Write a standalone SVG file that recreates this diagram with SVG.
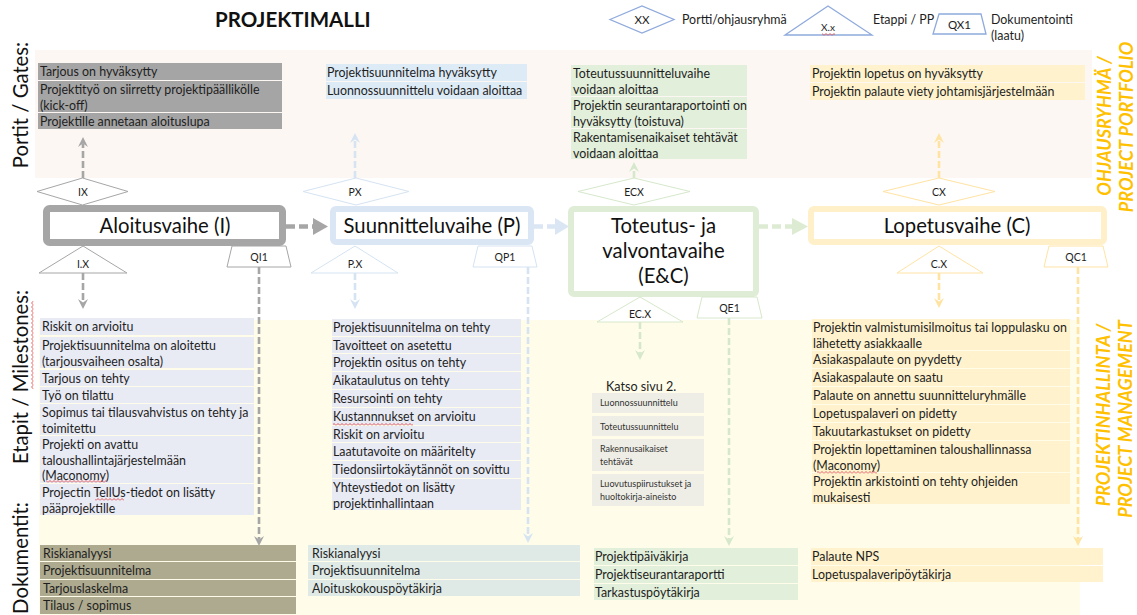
<svg xmlns="http://www.w3.org/2000/svg" width="1137" height="615" viewBox="0 0 1137 615">
<defs>
<style>
text{font-family:Lato,"Liberation Sans",sans-serif;fill:#1e1e1e}
.li{font-size:12.4px}
.sm{font-size:10.5px;text-anchor:middle}
.tiny{font-size:9px;fill:#333}
.stage{font-size:20.3px;text-anchor:middle;fill:#111}
.side{font-size:20.3px;text-anchor:middle;fill:#111}
.org{font-size:18px;font-weight:700;font-style:italic;fill:#FFC000;text-anchor:middle}
.title{font-size:20.5px;font-weight:700;fill:#111}
.shape{fill:#fff;stroke-width:1}
.leg{fill:#fff;stroke:#8FAADC;stroke-width:1.3}
.dash{fill:none;stroke-width:2.6;stroke-dasharray:7 3}
.flow{fill:none;stroke-width:4.5;stroke-dasharray:9 4}
.sq{fill:url(#squig)}
.cI{stroke:#A6A6A6}.cP{stroke:#D5E3F2}.cE{stroke:#D6E8CB}.cC{stroke:#FFE3A3}
.fI{fill:#A5A5A5}.fP{fill:#DDEBF7}.fE{fill:#E2EFDA}.fC{fill:#FFF2CC}
.mI{fill:#E8EAF4}.dI{fill:#ADAA8F}.dP{fill:#DFEAE7}.kb{fill:#EFEEE6}
</style>
<pattern id="squig" width="4" height="3" patternUnits="userSpaceOnUse">
<path d="M0,2.5 L2,0.5 L4,2.5" fill="none" stroke="#E04848" stroke-width="0.9"/>
</pattern>
<marker id="aI" viewBox="0 0 10 10" refX="3.5" refY="5" markerWidth="10" markerHeight="10" markerUnits="userSpaceOnUse" orient="auto"><path d="M0,0 L10,5 L0,10 L3.5,5 z" fill="#A6A6A6"/></marker>
<marker id="aP" viewBox="0 0 10 10" refX="3.5" refY="5" markerWidth="10" markerHeight="10" markerUnits="userSpaceOnUse" orient="auto"><path d="M0,0 L10,5 L0,10 L3.5,5 z" fill="#D5E3F2"/></marker>
<marker id="aE" viewBox="0 0 10 10" refX="3.5" refY="5" markerWidth="10" markerHeight="10" markerUnits="userSpaceOnUse" orient="auto"><path d="M0,0 L10,5 L0,10 L3.5,5 z" fill="#D6E8CB"/></marker>
<marker id="aC" viewBox="0 0 10 10" refX="3.5" refY="5" markerWidth="10" markerHeight="10" markerUnits="userSpaceOnUse" orient="auto"><path d="M0,0 L10,5 L0,10 L3.5,5 z" fill="#FFE3A3"/></marker>
</defs>

<rect width="1137" height="615" fill="#fff"/>

<!-- swim lanes -->
<rect x="35" y="50" width="1057" height="128" fill="#FCF7F3"/>
<rect x="39" y="320" width="1041" height="295" fill="#FFFDEA"/>

<!-- title and legend -->
<g id="title"><text class="title" x="215" y="27">PROJEKTIMALLI</text></g>
<g id="legend">
<polygon class="leg" points="610,19.5 642,6 674,19.5 642,33"/>
<text class="sm" x="642" y="24" style="font-size:11.5px">XX</text>
<text class="li" x="682" y="24">Portti/ohjausryhmä</text>
<polygon class="leg" points="785,35 828,6 872,35"/>
<text class="sm" x="828" y="31" style="font-size:10px">X.x</text>
<rect class="sq" x="822" y="33" width="13" height="3"/>
<text class="li" x="873" y="24">Etappi / PP</text>
<polygon class="leg" points="939,14 981,14 986,34 933,34"/>
<text class="sm" x="959.5" y="28.5" style="font-size:11.5px">QX1</text>
<text class="li" x="991" y="24">Dokumentointi</text>
<text class="li" x="991" y="40">(laatu)</text>
</g>

<!-- lane labels -->
<g id="lane-labels">
<text class="side" transform="translate(28,105) rotate(-90)">Portit / Gates:</text>
<g transform="translate(28,377) rotate(-90)">
<text class="side">Etapit / Milestones:</text>
<rect class="sq" x="-12" y="3" width="88" height="3"/>
</g>
<text class="side" transform="translate(28,558) rotate(-90)">Dokumentit:</text>
<text class="org" transform="translate(1111,126) rotate(-90)">OHJAUSRYHMÄ /</text>
<text class="org" transform="translate(1133,127) rotate(-90)">PROJECT PORTFOLIO</text>
<text class="org" transform="translate(1110,415) rotate(-90)">PROJEKTINHALLINTA /</text>
<text class="org" transform="translate(1132,419) rotate(-90)">PROJECT MANAGEMENT</text>
</g>

<!-- connectors -->
<g id="connectors">
<line class="flow" x1="286" y1="226.5" x2="314" y2="226.5" stroke="#A6A6A6"/>
<polygon points="313,218 328,226.5 313,235" fill="#A6A6A6"/>
<line class="flow" x1="534" y1="226.5" x2="556" y2="226.5" stroke="#DAE6F3"/>
<polygon points="555,218 569,226.5 555,235" fill="#DAE6F3"/>
<line class="flow" x1="759" y1="226.5" x2="793" y2="226.5" stroke="#DDEBD3"/>
<polygon points="792,218 808,226.5 792,235" fill="#DDEBD3"/>

<line class="dash cI" x1="83" y1="178" x2="83" y2="143.5" marker-end="url(#aI)"/>
<line class="dash cP" x1="355" y1="178" x2="355" y2="139.5" marker-end="url(#aP)"/>
<line class="dash cE" x1="634" y1="178" x2="634" y2="168.5" marker-end="url(#aE)"/>
<line class="dash cC" x1="939" y1="178" x2="939" y2="139.5" marker-end="url(#aC)"/>

<line class="dash cI" x1="83" y1="273" x2="83" y2="302.5" marker-end="url(#aI)"/>
<line class="dash cP" x1="355" y1="273" x2="355" y2="302.5" marker-end="url(#aP)"/>
<line class="dash cE" x1="640" y1="322" x2="640" y2="353.5" marker-end="url(#aE)"/>
<line class="dash cC" x1="939" y1="273" x2="939" y2="301.5" marker-end="url(#aC)"/>

<line class="dash cI" x1="259" y1="267" x2="259" y2="539.5" marker-end="url(#aI)"/>
<line class="dash cP" x1="528" y1="267" x2="528" y2="536.5" marker-end="url(#aP)"/>
<line class="dash cE" x1="729" y1="318" x2="729" y2="539.5" marker-end="url(#aE)"/>
<line class="dash cC" x1="1078" y1="267" x2="1078" y2="539.5" marker-end="url(#aC)"/>
</g>

<!-- phase I: Aloitusvaihe -->
<g id="gate-I">
<rect class="fI" x="38" y="63" width="244" height="17"/>
<rect class="fI" x="38" y="81" width="244" height="31"/>
<rect class="fI" x="38" y="113" width="244" height="16"/>
<text class="li" x="40" y="76">Tarjous on hyväksytty</text>
<text class="li" x="40" y="94">Projektityö on siirretty projektipäällikölle</text>
<text class="li" x="40" y="109.5">(kick-off)</text>
<text class="li" x="40" y="126">Projektille annetaan aloituslupa</text>
</g>
<g id="port-IX">
<polygon class="shape cI" points="37,191.5 82.5,178 128,191.5 82.5,205"/>
<text class="sm" x="83" y="195.5">IX</text>
</g>
<g id="stage-I">
<rect x="46.5" y="208.5" width="236" height="34" rx="3" fill="#fff" stroke="#A6A6A6" stroke-width="7"/>
<text class="stage" x="165" y="233">Aloitusvaihe (I)</text>
</g>
<g id="milestone-IX">
<polygon class="shape cI" points="39,273 83,246 127,273"/>
<text class="sm" x="83" y="268">I.X</text>
</g>
<g id="doc-QI1">
<polygon class="shape cI" points="232,246 286,246 291,267 227,267"/>
<text class="sm" x="259" y="261">QI1</text>
</g>
<g id="milestones-I">
<rect class="mI" x="40" y="318" width="214" height="17"/>
<rect class="mI" x="40" y="337" width="214" height="31"/>
<rect class="mI" x="40" y="370" width="214" height="16"/>
<rect class="mI" x="40" y="387" width="214" height="16"/>
<rect class="mI" x="40" y="404" width="214" height="31"/>
<rect class="mI" x="40" y="436" width="214" height="47"/>
<rect class="mI" x="40" y="484" width="214" height="31"/>
<text class="li" x="42" y="331">Riskit on arvioitu</text>
<text class="li" x="42" y="350">Projektisuunnitelma on aloitettu</text>
<text class="li" x="42" y="365.5">(tarjousvaiheen osalta)</text>
<text class="li" x="42" y="383">Tarjous on tehty</text>
<text class="li" x="42" y="400">Työ on tilattu</text>
<text class="li" x="42" y="417">Sopimus tai tilausvahvistus on tehty ja</text>
<text class="li" x="42" y="432.5">toimitettu</text>
<text class="li" x="42" y="449">Projekti on avattu</text>
<text class="li" x="42" y="464.5">taloushallintajärjestelmään</text>
<text class="li" x="42" y="480">(Maconomy)</text>
<rect class="sq" x="46" y="480" width="60" height="3"/>
<text class="li" x="42" y="497">Projectin TellUs-tiedot on lisätty</text>
<rect class="sq" x="95" y="498" width="29" height="3"/>
<text class="li" x="42" y="512.5">pääprojektille</text>
</g>
<g id="docs-I">
<rect class="dI" x="40" y="545" width="256" height="16"/>
<rect class="dI" x="40" y="562" width="256" height="17"/>
<rect class="dI" x="40" y="580" width="256" height="16"/>
<rect class="dI" x="40" y="597" width="256" height="17"/>
<text class="li" x="43" y="558">Riskianalyysi</text>
<text class="li" x="43" y="575">Projektisuunnitelma</text>
<text class="li" x="43" y="593">Tarjouslaskelma</text>
<text class="li" x="43" y="610">Tilaus / sopimus</text>
</g>

<!-- phase P: Suunnitteluvaihe -->
<g id="gate-P">
<rect class="fP" x="326" y="64" width="201" height="17"/>
<rect class="fP" x="326" y="82" width="201" height="17"/>
<text class="li" x="327" y="77">Projektisuunnitelma hyväksytty</text>
<text class="li" x="327" y="95">Luonnossuunnittelu voidaan aloittaa</text>
</g>
<g id="port-PX">
<polygon class="shape cP" points="303,191.5 356,178 409,191.5 356,205"/>
<text class="sm" x="355" y="195.5">PX</text>
</g>
<g id="stage-P">
<rect x="333" y="209" width="198" height="33" rx="3" fill="#fff" stroke="#DAE6F3" stroke-width="6"/>
<text class="stage" x="432" y="233">Suunnitteluvaihe (P)</text>
</g>
<g id="milestone-PX">
<polygon class="shape cP" points="311,273 355,246 398,273"/>
<text class="sm" x="355" y="268">P.X</text>
</g>
<g id="doc-QP1">
<polygon class="shape cP" points="478,246 532,246 537,267 473,267"/>
<text class="sm" x="505" y="261">QP1</text>
</g>
<g id="milestones-P">
<rect class="mI" x="332" y="319" width="189" height="17"/>
<rect class="mI" x="332" y="337" width="189" height="16"/>
<rect class="mI" x="332" y="354" width="189" height="17"/>
<rect class="mI" x="332" y="372" width="189" height="17"/>
<rect class="mI" x="332" y="390" width="189" height="17"/>
<rect class="mI" x="332" y="408" width="189" height="17"/>
<rect class="mI" x="332" y="426" width="189" height="16"/>
<rect class="mI" x="332" y="443" width="189" height="17"/>
<rect class="mI" x="332" y="461" width="189" height="17"/>
<rect class="mI" x="332" y="479" width="189" height="31"/>
<text class="li" x="333" y="332">Projektisuunnitelma on tehty</text>
<text class="li" x="333" y="350">Tavoitteet on asetettu</text>
<text class="li" x="333" y="367">Projektin ositus on tehty</text>
<text class="li" x="333" y="385">Aikataulutus on tehty</text>
<text class="li" x="333" y="403">Resursointi on tehty</text>
<text class="li" x="333" y="421">Kustannnukset on arvioitu</text>
<rect class="sq" x="333" y="423" width="80" height="3"/>
<text class="li" x="333" y="439">Riskit on arvioitu</text>
<text class="li" x="333" y="456">Laatutavoite on määritelty</text>
<text class="li" x="333" y="474">Tiedonsiirtokäytännöt on sovittu</text>
<text class="li" x="333" y="492">Yhteystiedot on lisätty</text>
<text class="li" x="333" y="507.5">projektinhallintaan</text>
</g>
<g id="docs-P">
<rect class="dP" x="308" y="545" width="272" height="16"/>
<rect class="dP" x="308" y="562" width="272" height="17"/>
<rect class="dP" x="308" y="580" width="272" height="16"/>
<text class="li" x="312" y="558">Riskianalyysi</text>
<text class="li" x="312" y="575">Projektisuunnitelma</text>
<text class="li" x="312" y="593">Aloituskokouspöytäkirja</text>
</g>

<!-- phase E&C: Toteutus- ja valvontavaihe -->
<g id="gate-E">
<rect class="fE" x="571" y="65" width="176" height="31"/>
<rect class="fE" x="571" y="97" width="176" height="31"/>
<rect class="fE" x="571" y="129" width="176" height="30"/>
<text class="li" x="573" y="78">Toteutussuunnitteluvaihe</text>
<text class="li" x="573" y="93.5">voidaan aloittaa</text>
<text class="li" x="573" y="110">Projektin seurantaraportointi on</text>
<text class="li" x="573" y="125.5">hyväksytty (toistuva)</text>
<text class="li" x="573" y="142">Rakentamisenaikaiset tehtävät</text>
<text class="li" x="573" y="157.5">voidaan aloittaa</text>
</g>
<g id="port-ECX">
<polygon class="shape cE" points="578,191.5 634,178 690,191.5 634,205"/>
<text class="sm" x="634" y="195.5">ECX</text>
</g>
<g id="stage-E">
<rect x="571" y="209" width="185" height="85" rx="3" fill="#fff" stroke="#DFEDD6" stroke-width="6"/>
<text class="stage" x="663.5" y="233">Toteutus- ja</text>
<text class="stage" x="663.5" y="258">valvontavaihe</text>
<text class="stage" x="663.5" y="283">(E&amp;C)</text>
</g>
<g id="milestone-ECX">
<polygon class="shape cE" points="597,322 640,297 683,322"/>
<text class="sm" x="640" y="318">EC.X</text>
</g>
<g id="doc-QE1">
<polygon class="shape cE" points="702,297 757,297 762,318 697,318"/>
<text class="sm" x="729.5" y="312">QE1</text>
</g>
<g id="milestones-E">
<text class="li" x="606" y="391" style="font-size:12.6px">Katso sivu 2.</text>
<rect class="kb" x="592" y="393" width="112" height="20"/>
<rect class="kb" x="592" y="416" width="112" height="20"/>
<rect class="kb" x="592" y="439" width="112" height="32"/>
<rect class="kb" x="592" y="474" width="112" height="32"/>
<text class="tiny" x="600" y="406">Luonnossuunnittelu</text>
<text class="tiny" x="600" y="429.5">Toteutussuunnittelu</text>
<text class="tiny" x="600" y="452">Rakennusaikaiset</text>
<text class="tiny" x="600" y="464.5">tehtävät</text>
<text class="tiny" x="600" y="487">Luovutuspiirustukset ja</text>
<text class="tiny" x="600" y="499.5">huoltokirja-aineisto</text>
</g>
<g id="docs-E">
<rect class="fE" x="594" y="548" width="204" height="17"/>
<rect class="fE" x="594" y="566" width="204" height="17"/>
<rect class="fE" x="594" y="584" width="204" height="16"/>
<text class="li" x="595" y="561">Projektipäiväkirja</text>
<text class="li" x="595" y="579">Projektiseurantaraportti</text>
<text class="li" x="595" y="597">Tarkastuspöytäkirja</text>
</g>

<!-- phase C: Lopetusvaihe -->
<g id="gate-C">
<rect class="fC" x="810" y="65" width="275" height="17"/>
<rect class="fC" x="810" y="83" width="275" height="17"/>
<text class="li" x="812" y="78">Projektin lopetus on hyväksytty</text>
<text class="li" x="812" y="96">Projektin palaute viety johtamisjärjestelmään</text>
</g>
<g id="port-CX">
<polygon class="shape cC" points="883,191.5 939,178 995,191.5 939,205"/>
<text class="sm" x="939" y="195.5">CX</text>
</g>
<g id="stage-C">
<rect x="811" y="209" width="293" height="33" rx="3" fill="#fff" stroke="#FFF0C9" stroke-width="6"/>
<text class="stage" x="957" y="233">Lopetusvaihe (C)</text>
</g>
<g id="milestone-CX">
<polygon class="shape cC" points="897,273 939,246 983,273"/>
<text class="sm" x="939" y="268">C.X</text>
</g>
<g id="doc-QC1">
<polygon class="shape cC" points="1049,246 1103,246 1108,267 1044,267"/>
<text class="sm" x="1076" y="261">QC1</text>
</g>
<g id="milestones-C">
<rect class="fC" x="812" y="319" width="258" height="31"/>
<rect class="fC" x="812" y="351" width="258" height="17"/>
<rect class="fC" x="812" y="369" width="258" height="17"/>
<rect class="fC" x="812" y="387" width="258" height="17"/>
<rect class="fC" x="812" y="405" width="258" height="17"/>
<rect class="fC" x="812" y="423" width="258" height="17"/>
<rect class="fC" x="812" y="441" width="258" height="31"/>
<rect class="fC" x="812" y="473" width="258" height="31"/>
<text class="li" x="813" y="332">Projektin valmistumisilmoitus tai loppulasku on</text>
<text class="li" x="813" y="347.5">lähetetty asiakkaalle</text>
<text class="li" x="813" y="364">Asiakaspalaute on pyydetty</text>
<text class="li" x="813" y="382">Asiakaspalaute on saatu</text>
<text class="li" x="813" y="400">Palaute on annettu suunnitteluryhmälle</text>
<text class="li" x="813" y="418">Lopetuspalaveri on pidetty</text>
<text class="li" x="813" y="436">Takuutarkastukset on pidetty</text>
<text class="li" x="813" y="454">Projektin lopettaminen taloushallinnassa</text>
<text class="li" x="813" y="469.5">(Maconomy)</text>
<rect class="sq" x="817" y="471" width="60" height="3"/>
<text class="li" x="813" y="486">Projektin arkistointi on tehty ohjeiden</text>
<text class="li" x="813" y="501.5">mukaisesti</text>
</g>
<g id="docs-C">
<rect class="fC" x="811" y="548" width="292" height="17"/>
<rect class="fC" x="811" y="566" width="292" height="16"/>
<text class="li" x="812" y="561">Palaute NPS</text>
<text class="li" x="812" y="579">Lopetuspalaveripöytäkirja</text>
</g>
</svg>
